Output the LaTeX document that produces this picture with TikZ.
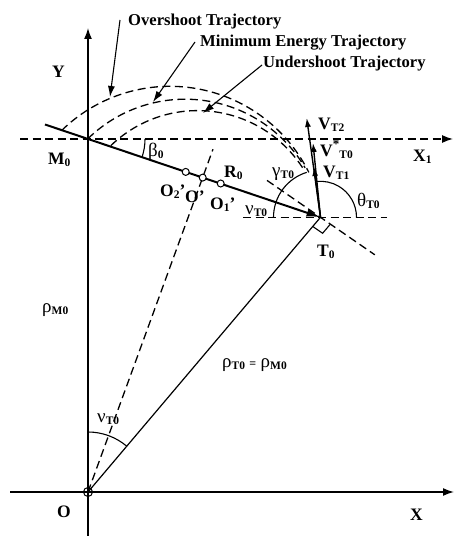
\documentclass[tikz,border=0pt]{standalone}
\usepackage{fontspec}
\setmainfont{Liberation Serif}
\usetikzlibrary{arrows.meta,calc}
\newcommand\lsub[1]{\raisebox{-1.5pt}{\fontsize{11.5}{11.5}\selectfont\bfseries #1}}
\newcommand\gk[1]{{\mdseries\fontsize{19}{19}\selectfont #1}}
\begin{document}
\begin{tikzpicture}[x=1pt,y=1pt,
  lab/.style={font=\bfseries\fontsize{17.5}{17.5}\selectfont, inner sep=0pt, anchor=base west},
  tlab/.style={font=\bfseries\fontsize{16.6}{16.6}\selectfont, inner sep=0pt, anchor=base west},
  axis/.style={line width=1.5pt, -{Latex[length=11pt,width=8pt]}},
  dline/.style={line width=1.3pt, dash pattern=on 8pt off 4.5pt},
  leader/.style={line width=1.1pt, -{Latex[length=11pt,width=7pt]}},
  vec/.style={line width=1.4pt, -{Latex[length=9pt,width=6pt]}},
  ptc/.style={circle, draw, line width=1pt, fill=white, inner sep=0pt, minimum size=7pt},
  thin arc/.style={line width=1.1pt},
]
\useasboundingbox (0,0) rectangle (454,536);
% key points
\coordinate (O) at (88,44);
\coordinate (M0) at (88,397);
\coordinate (T0) at (320.5,318.7);
% axes
\coordinate (Xs) at (10,44);
\coordinate (Xe) at (454,44);
\coordinate (Ys) at (88,0);
\coordinate (Ye) at (88,508);
\draw[axis] (Xs) -- (Xe);
\draw[axis] (Ys) -- (Ye);
% X1 dashed line
\coordinate (X1s) at (20,397);
\coordinate (X1e) at (453,397);
\draw[dline, -{Latex[length=11pt,width=8pt]}] (X1s) -- (X1e);
% trajectories
\draw[dline] (170,294.7) ++(134.4:155pt) arc[start angle=134.4, end angle=26.4, radius=155pt];
\draw[dline] (185.1,297.5) ++(134.3:139.3pt) arc[start angle=134.3, end angle=30.5, radius=139.3pt];
\draw[dline] (197.6,300.4) ++(134.0:125pt) arc[start angle=134.0, end angle=32.7, radius=125pt];
% dashed line from O through O'
\coordinate (Oe) at (213,386.8);
\draw[dline] (O) -- (Oe);
% tangent at T0 and horizontal at T0
\coordinate (Tu) at (267,355.6);
\coordinate (Td) at (374.8,281.2);
\draw[dline] (Tu) -- (Td);
\coordinate (Hl) at (243,318.7);
\coordinate (Hr) at (387,318.7);
\draw[dline] (Hl) -- (Hr);
% O to T0
\draw[line width=1.2pt] (O) -- (T0);
% M0 T0 line
\coordinate (Ls) at (45,411.5);
\draw[line width=2pt, -{Latex[length=14pt,width=8pt]}] (Ls) -- (T0);
% right angle mark
\coordinate (ra1) at ($(T0)!12pt!(O)$);
\coordinate (ra2) at ($(T0)!12pt!(Td)$);
\draw[line width=1.1pt] (ra1) -- ($(ra1)+(ra2)-(T0)$) -- (ra2);
% velocity vectors
\coordinate (VT2) at (306.7,418);
\coordinate (VS) at (313,393);
\coordinate (VT1) at (314,369);
\draw[vec] (T0) -- (VT2);
\draw[vec] (T0) -- (VS);
\draw[vec] (T0) -- (VT1);
% angle arcs
\draw[thin arc] ($(T0)+(36,0)$) arc[start angle=0, end angle=96, radius=36pt];
\draw[thin arc] ($(T0)+(-47,0)$) arc[start angle=180, end angle=107, radius=47pt];
\draw[thin arc] ($(M0)+(57,0)$) arc[start angle=0, end angle=-18.6, radius=57pt];
\draw[thin arc] ($(O)+(0,60)$) arc[start angle=90, end angle=49.8, radius=60pt];
% leaders
\coordinate (L1s) at (120,516);
\coordinate (L1e) at (110,439);
\coordinate (L2s) at (195,494);
\coordinate (L2e) at (153,434);
\coordinate (L3s) at (262,471);
\coordinate (L3e) at (203,423);
\draw[leader] (L1s) -- (L1e);
\draw[leader] (L2s) -- (L2e);
\draw[leader] (L3s) -- (L3e);
% points
\node[ptc, fill=none, minimum size=9pt] (Oc) at (O) {};
\node[ptc] (O2p) at (185.7,364.1) {};
\node[ptc] (Op) at (202.7,358.4) {};
\node[ptc] (O1p) at (220.7,352.5) {};
% trajectory labels
\node[tlab] (tover) at (128,510) {Overshoot Trajectory};
\node[tlab] (tmin) at (200,489.3) {Minimum Energy Trajectory};
\node[tlab] (tunder) at (263,468) {Undershoot Trajectory};
% labels
\node[lab] (lY) at (52,458) {Y};
\node[lab] (lM0) at (48,371) {M\lsub{0}};
\node[lab] (lX1) at (413,374) {X\lsub{1}};
\node[lab] (lVT2) at (318,406) {V\lsub{T2}};
\node[lab] (lVS) at (320,379) {V\raisebox{8pt}{\fontsize{13}{13}\selectfont *}\lsub{T0}};
\node[lab] (lVT1) at (323,358) {V\lsub{T1}};
\node[lab] (lth) at (357,329) {\gk{θ}\lsub{T0}};
\node[lab] (lga) at (272,359) {\gk{γ}\lsub{T0}};
\node[lab] (lnuT) at (245,321) {\gk{ν}\lsub{T0}};
\node[lab] (lR0) at (224,358) {R\lsub{0}};
\node[lab] (lO2) at (160,339) {O\lsub{2}'};
\node[lab] (lOp) at (185,333) {O'};
\node[lab] (lO1) at (210,326) {O\lsub{1}'};
\node[lab] (lT0) at (317,279) {T\lsub{0}};
\node[lab] (lrhoM) at (42,223) {\gk{ρ}\lsub{M0}};
\node[lab] (lrhoT) at (222,168) {\gk{ρ}\lsub{T0} {\fontsize{12}{12}\selectfont =} \gk{ρ}\lsub{M0}};
\node[lab] (lnuO) at (97,113) {\gk{ν}\lsub{T0}};
\node[lab] (lO) at (57,18) {O};
\node[lab] (lX) at (410,16) {X};
\node[lab] (lbeta) at (148,379) {\gk{β}\lsub{0}};
\end{tikzpicture}
\end{document}
